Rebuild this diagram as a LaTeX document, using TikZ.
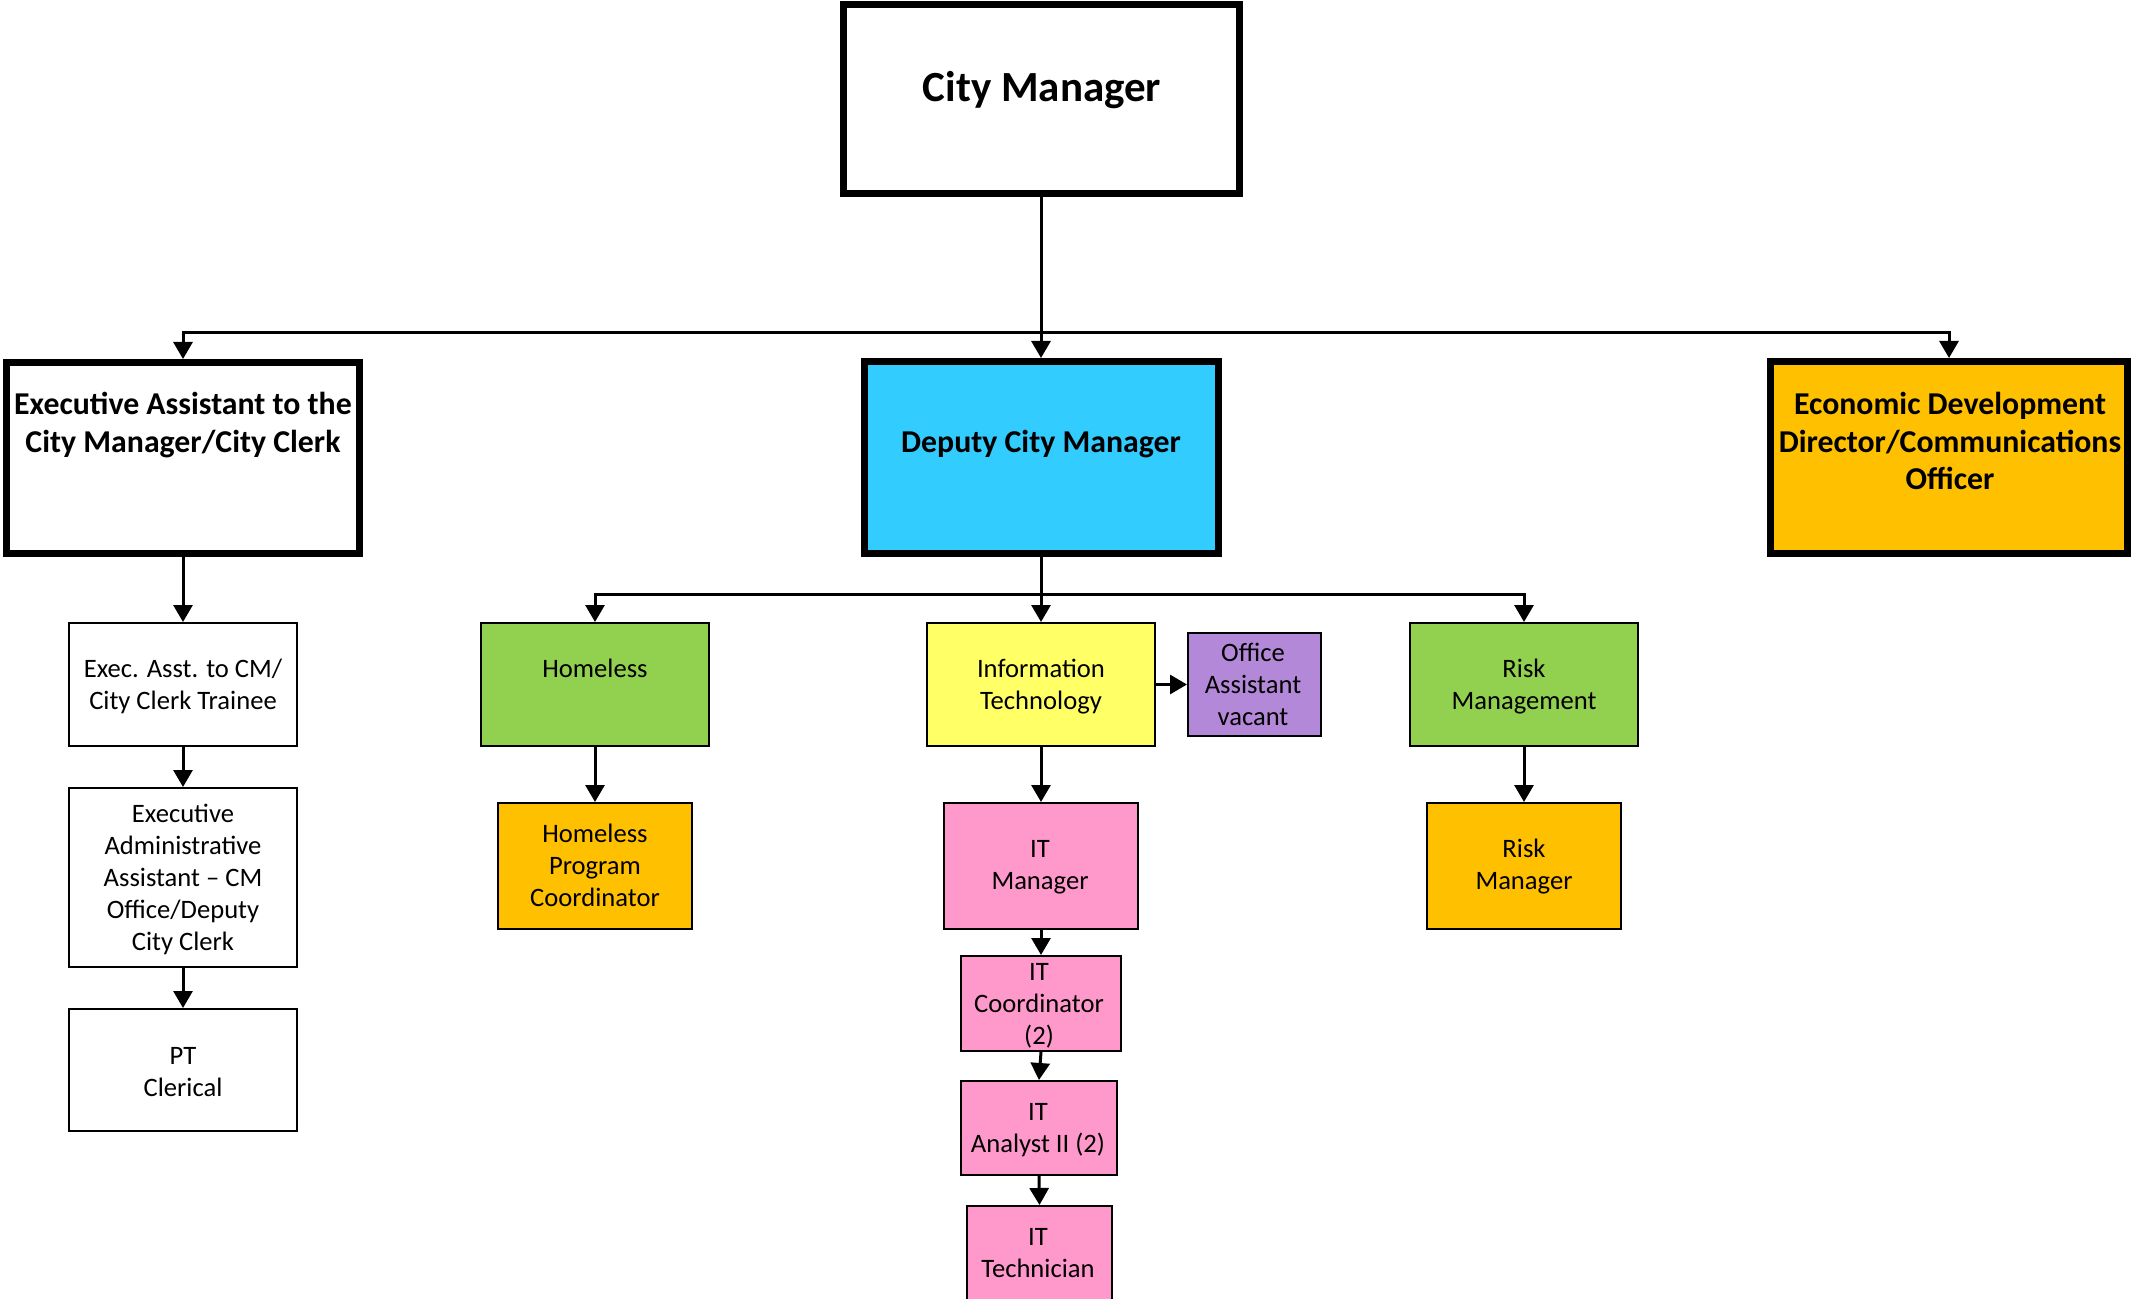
\documentclass[tikz,border=0pt]{standalone}
\usepackage{fontspec}
\setmainfont{Carlito}
\usetikzlibrary{arrows.meta}

\definecolor{dcmblue}{HTML}{33CCFF}
\definecolor{gold}{HTML}{FFC000}
\definecolor{leaf}{HTML}{92D050}
\definecolor{lemon}{HTML}{FFFF66}
\definecolor{lilac}{HTML}{B488D8}
\definecolor{rose}{HTML}{FF99CC}

% struts that fix the top of each label above its first baseline
\newcommand\strR{\rule{0pt}{11pt}}
\newcommand\strB{\rule{0pt}{13pt}}
\newcommand\strC{\rule{0pt}{18pt}}

% box node from its stroke corners: name, style, x1, y1, x2, y2
\newcommand\orgnode[6]{%
  \node[#2, minimum width={(#5-#3)*0.5pt}, minimum height={(#6-#4)*0.5pt}]
    (#1) at ({(#3+#5)/2},{(#4+#6)/2}) {};}

\begin{document}
\begin{tikzpicture}[x=0.5pt,y=-0.5pt,
  heavy/.style={draw=black, line width=3.5pt, inner sep=0pt, line join=miter},
  light/.style={draw=black, line width=1pt, inner sep=0pt},
  lr/.style={anchor=north, inner sep=0pt, align=center,
    font=\fontsize{13.3pt}{16pt}\selectfont},
  lb/.style={anchor=north, inner sep=0pt, align=center,
    font=\fontsize{15.9pt}{18.8pt}\selectfont\bfseries},
  lc/.style={anchor=north, inner sep=0pt, align=center,
    font=\fontsize{21.5pt}{26pt}\selectfont\bfseries},
  link/.style={draw=black, line width=1.5pt},
  arr/.style={link, -{Triangle[width=9.5pt,length=8.5pt]}},
]
\useasboundingbox (0,0) rectangle (2131,1299);
\clip (0,0) rectangle (2131,1299);
\fill[white] (0,0) rectangle (2131,1299);

% top level
\orgnode{cm}{heavy, fill=white}{843}{4.5}{1239}{193.5}
\orgnode{exec}{heavy, fill=white}{6.5}{362.5}{359.5}{553.5}
\orgnode{deputy}{heavy, fill=dcmblue}{864}{361.5}{1218}{553.5}
\orgnode{econ}{heavy, fill=gold}{1770.5}{361.5}{2127.5}{553.5}

% clerk column
\orgnode{trainee}{light, fill=white}{69}{623}{297}{746}
\orgnode{execadmin}{light, fill=white}{69}{788}{297}{967}
\orgnode{pt}{light, fill=white}{69}{1009}{297}{1131}

% divisions under the deputy
\orgnode{homeless}{light, fill=leaf}{481}{623}{709}{746}
\orgnode{hpc}{light, fill=gold}{498}{803}{692}{929}
\orgnode{it}{light, fill=lemon}{927}{623}{1155}{746}
\orgnode{office}{light, fill=lilac}{1188}{633}{1321}{736}
\orgnode{itmgr}{light, fill=rose}{944}{803}{1138}{929}
\orgnode{itcoord}{light, fill=rose}{961}{956}{1121}{1051}
\orgnode{itanalyst}{light, fill=rose}{961}{1081}{1117}{1175}
\orgnode{ittech}{light, fill=rose}{967}{1206}{1112}{1330}
\orgnode{riskmgmt}{light, fill=leaf}{1410}{623}{1638}{746}
\orgnode{riskmgr}{light, fill=gold}{1427}{803}{1621}{929}

% labels
\node[lc] (cm-t) at (1042,65) {\strC City Manager};
\node[lb] (exec-t) at (183,388) {\strB Executive Assistant to the\\City Manager/City Clerk};
\node[lb] (deputy-t) at (1041,426) {\strB Deputy City Manager};
\node[lb] (econ-t) at (1950,388) {\strB Economic Development\\Director/Communications\\Officer};

\node[lr] (trainee-t) at (183,655) {\strR Exec. Asst. to CM/\\City Clerk Trainee};
\node[lr] (execadmin-t) at (183,800) {\strR Executive\\Administrative\\Assistant -- CM\\Office/Deputy\\City Clerk};
\node[lr] (pt-t) at (183,1042) {\strR PT\\Clerical};

\node[lr] (homeless-t) at (595,655) {\strR Homeless};
\node[lr] (hpc-t) at (595,820) {\strR Homeless\\Program\\Coordinator};
\node[lr] (it-t) at (1041,655) {\strR Information\\Technology};
\node[lr] (office-t) at (1253,639) {\strR Office\\Assistant\\vacant};
\node[lr] (itmgr-t) at (1040,835) {\strR IT\\Manager};
\node[lr] (itcoord-t) at (1039,958) {\strR IT\\Coordinator\\(2)};
\node[lr] (itanalyst-t) at (1038,1098) {\strR IT\\Analyst II (2)};
\node[lr] (ittech-t) at (1038,1223) {\strR IT\\Technician};
\node[lr] (riskmgmt-t) at (1524,655) {\strR Risk\\Management};
\node[lr] (riskmgr-t) at (1524,835) {\strR Risk\\Manager};

% reporting lines from the city manager
\coordinate (bus1) at (1041,333);
\draw[arr] (cm.south) -- (deputy.north);
\draw[arr] (bus1) -| (exec.north);
\draw[arr] (bus1) -| (econ.north);

% reporting lines from the deputy
\coordinate (bus2) at (1041,594);
\draw[arr] (deputy.south) -- (it.north);
\draw[arr] (bus2) -| (homeless.north);
\draw[arr] (bus2) -| (riskmgmt.north);

% chains
\draw[arr] (exec.south) -- (trainee.north);
\draw[arr] (trainee.south) -- (execadmin.north);
\draw[arr] (execadmin.south) -- (pt.north);
\draw[arr] (homeless.south) -- (hpc.north);
\draw[arr] (it.east) -- (office.west);
\draw[arr] (it.south) -- (itmgr.north);
\draw[arr] (itmgr.south) -- (itcoord.north);
\draw[arr] (itcoord.south) -- (itanalyst.north);
\draw[arr] (itanalyst.south) -- (ittech.north);
\draw[arr] (riskmgmt.south) -- (riskmgr.north);
\end{tikzpicture}
\end{document}
